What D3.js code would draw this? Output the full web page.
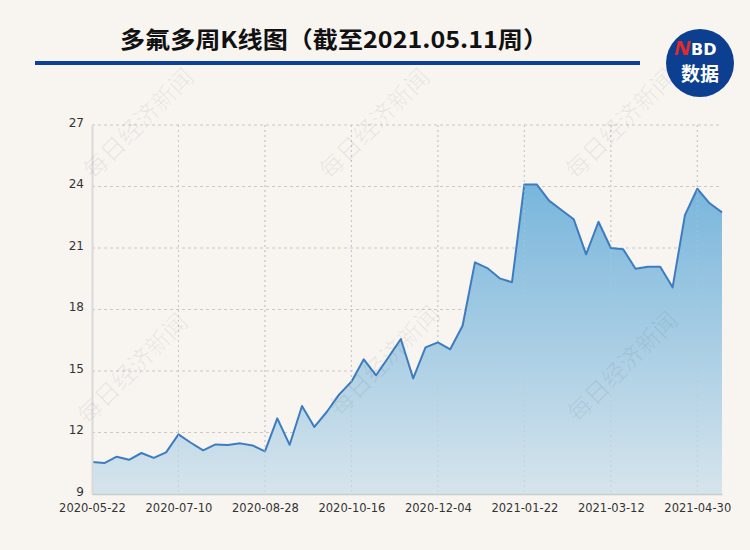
<!DOCTYPE html>
<html><head><meta charset="utf-8">
<script src="https://cdn.jsdelivr.net/npm/d3@7"></script>
<style>
html,body{margin:0;padding:0;background:#f8f5f1;}
svg{display:block;}
</style></head>
<body>
<script>
const dates = ["2020-05-22","2020-05-29","2020-06-05","2020-06-12","2020-06-19","2020-06-26","2020-07-03","2020-07-10","2020-07-17","2020-07-24","2020-07-31","2020-08-07","2020-08-14","2020-08-21","2020-08-28","2020-09-04","2020-09-11","2020-09-18","2020-09-25","2020-10-02","2020-10-09","2020-10-16","2020-10-23","2020-10-30","2020-11-06","2020-11-13","2020-11-20","2020-11-27","2020-12-04","2020-12-11","2020-12-18","2020-12-25","2021-01-01","2021-01-08","2021-01-15","2021-01-22","2021-01-29","2021-02-05","2021-02-12","2021-02-19","2021-02-26","2021-03-05","2021-03-12","2021-03-19","2021-03-26","2021-04-02","2021-04-09","2021-04-16","2021-04-23","2021-04-30","2021-05-07","2021-05-11"];
const prices = [10.56,10.51,10.82,10.67,11.0,10.76,11.03,11.91,11.5,11.13,11.42,11.39,11.47,11.37,11.08,12.69,11.4,13.29,12.27,13.0,13.85,14.48,15.57,14.79,15.67,16.56,14.64,16.15,16.4,16.06,17.21,20.3,20.02,19.52,19.33,24.1,24.1,23.31,22.85,22.4,20.69,22.28,21.0,20.94,19.99,20.09,20.09,19.08,22.6,23.89,23.18,22.74];
const xTickLabels = ["2020-05-22","2020-07-10","2020-08-28","2020-10-16","2020-12-04","2021-01-22","2021-03-12","2021-04-30"];
const yTicks = [9,12,15,18,21,24,27];
const titleText = "多氟多周K线图（截至2021.05.11周）";
const watermark = "每日经济新闻";

const W = 750, H = 550;
const svg = d3.select("body").append("svg").attr("width", W).attr("height", H);
svg.append("rect").attr("width", W).attr("height", H).attr("fill", "#f8f5f1");

const x = d3.scalePoint().domain(dates).range([92, 722]);
const y = d3.scaleLinear().domain([9, 27]).range([494, 125]);

// gradient
const defs = svg.append("defs");
const grad = defs.append("linearGradient").attr("id", "fillGrad")
  .attr("gradientUnits", "userSpaceOnUse")
  .attr("x1", 0).attr("x2", 0)
  .attr("y1", y(d3.max(prices))).attr("y2", y(9));
grad.append("stop").attr("offset", "0%").attr("stop-color", "#78b6dc");
grad.append("stop").attr("offset", "100%").attr("stop-color", "#d6e4ec");

// grid horizontal
const g = svg.append("g");
g.selectAll("line.hg").data(yTicks.filter(t => t !== 9)).join("line")
  .attr("x1", 92).attr("x2", 722)
  .attr("y1", d => y(d)).attr("y2", d => y(d))
  .attr("stroke", "#c9c9c9").attr("stroke-width", 1).attr("stroke-dasharray", "3,3");
// grid vertical
g.selectAll("line.vg").data(xTickLabels.slice(1)).join("line")
  .attr("x1", d => x(d)).attr("x2", d => x(d))
  .attr("y1", 125).attr("y2", 494)
  .attr("stroke", "#c9c9c9").attr("stroke-width", 1).attr("stroke-dasharray", "2,3");

// area
const area = d3.area().x((d, i) => x(dates[i])).y0(y(9)).y1(d => y(d));
svg.append("path").datum(prices).attr("d", area).attr("fill", "url(#fillGrad)");
const line = d3.line().x((d, i) => x(dates[i])).y(d => y(d));
svg.append("path").datum(prices).attr("d", line).attr("fill", "none")
  .attr("stroke", "#3d7cbf").attr("stroke-width", 2).attr("stroke-linejoin", "round");

// vertical grid over area (faint)
svg.selectAll("line.vg2").data(xTickLabels.slice(1)).join("line")
  .attr("x1", d => x(d)).attr("x2", d => x(d))
  .attr("y1", 125).attr("y2", 494)
  .attr("stroke", "#b8c8d2").attr("stroke-opacity", 0.6).attr("stroke-width", 1).attr("stroke-dasharray", "2,3");

// axes
const yAxis = d3.axisLeft(y).tickValues(yTicks).tickSize(0).tickPadding(8);
const ya = svg.append("g").attr("transform", "translate(92,0)").call(yAxis);
ya.select(".domain").attr("stroke", "#d9d9d9").attr("stroke-width", 2);
ya.selectAll("text").attr("font-family", "'DejaVu Sans', sans-serif").attr("font-size", 12)
  .attr("fill", "#333").attr("dy", "0.1em");

const xAxis = d3.axisBottom(x).tickValues(xTickLabels).tickSize(0).tickPadding(10);
const xa = svg.append("g").attr("transform", "translate(0,494)").call(xAxis);
xa.select(".domain").attr("stroke", "#c8cccf").attr("stroke-width", 1.5);
xa.selectAll("text").attr("font-family", "'DejaVu Sans', sans-serif").attr("font-size", 11.5).attr("fill", "#333");

// watermarks
const wmPos = [[140,125],[376,125],[622,125],[134,370],[386,362],[624,368]];
svg.selectAll("text.wm").data(wmPos).join("text")
  .attr("transform", d => `translate(${d[0]},${d[1]}) rotate(-45)`)
  .attr("text-anchor", "middle").attr("dominant-baseline", "middle")
  .attr("font-family", "'Noto Sans CJK SC', sans-serif").attr("font-size", 24)
  .attr("fill", "#000").attr("fill-opacity", 0.06)
  .text(watermark);

// title
svg.append("text").attr("x", 334).attr("y", 48).attr("text-anchor", "middle")
  .attr("font-family", "'Noto Sans CJK SC', sans-serif").attr("font-weight", "bold")
  .attr("font-size", 23).attr("fill", "#111")
  .attr("textLength", 428).attr("lengthAdjust", "spacingAndGlyphs")
  .text(titleText);
svg.append("rect").attr("x", 35).attr("y", 61).attr("width", 605).attr("height", 4).attr("fill", "#0b4196");

// logo
const logo = svg.append("g").attr("transform", "translate(700,63)");
logo.append("circle").attr("r", 34).attr("fill", "#0c3f90");
logo.append("path").attr("d", "M-22,-22 L-18,-22 L-14,-12 L-12,-22 L-9,-22 L-12,-8 L-16,-8 L-20,-18 L-22,-8 L-25,-8 Z").attr("fill", "#e62a2a");
logo.append("text").attr("x", -9).attr("y", -8).attr("text-anchor", "start")
  .attr("font-family", "'DejaVu Sans', sans-serif").attr("font-weight", "bold").attr("font-size", 16)
  .attr("fill", "#fff").text("BD");
logo.append("text").attr("x", 0).attr("y", 18).attr("text-anchor", "middle")
  .attr("font-family", "'Noto Sans CJK SC', sans-serif").attr("font-weight", "bold").attr("font-size", 19)
  .attr("fill", "#fff").text("数据");
</script>
</body></html>
